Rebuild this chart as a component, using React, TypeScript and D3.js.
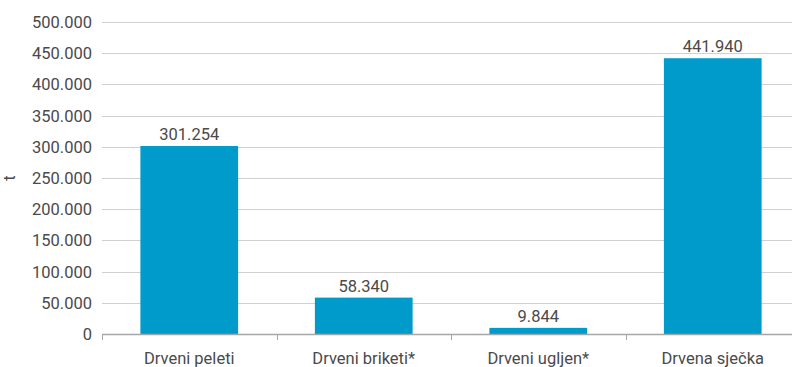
import React from "react";
import * as d3 from "d3";

const categories: string[] = ["Drveni peleti", "Drveni briketi*", "Drveni ugljen*", "Drvena sječka"];
const values: number[] = [301254, 58340, 9844, 441940];
const valueLabels: string[] = ["301.254", "58.340", "9.844", "441.940"];
const yTicks: number[] = [0, 50000, 100000, 150000, 200000, 250000, 300000, 350000, 400000, 450000, 500000];
const yTickLabels: string[] = ["0", "50.000", "100.000", "150.000", "200.000", "250.000", "300.000", "350.000", "400.000", "450.000", "500.000"];
const yAxisTitle = "t";

const W = 792;
const H = 367;
const FONT = "Roboto, 'DejaVu Sans Condensed', sans-serif";
const TEXT = "#4a4a4a";
const FS = 16.5;

export default function App() {
  const x = d3.scaleBand<string>().domain(categories).range([102, 800]).paddingInner(0.44).paddingOuter(0.22);
  const y = d3.scaleLinear().domain([0, 500000]).range([334, 22]);
  const step = x.step();
  const boundaries = d3.range(categories.length + 1).map((i) => x.range()[0] + i * step);

  return (
    <svg width={W} height={H} style={{ position: "absolute", left: 0, top: 0, display: "block", background: "#fff" }} fontFamily={FONT}>
      {yTicks.map((t, i) =>
        t === 0 ? null : (
          <line key={"g" + i} x1={102} x2={W} y1={Math.round(y(t)) + 0.5} y2={Math.round(y(t)) + 0.5} stroke="#d0d0d0" strokeWidth={1} />
        )
      )}
      {yTicks.map((t, i) => (
        <text key={"yl" + i} x={92} y={y(t)} dy="0.36em" textAnchor="end" fontSize={FS} fill={TEXT}>
          {yTickLabels[i]}
        </text>
      ))}
      <text transform={`translate(15,${y(250000)}) rotate(-90)`} textAnchor="middle" fontSize={FS} fill={TEXT}>
        {yAxisTitle}
      </text>
      {categories.map((c, i) => (
        <rect key={"b" + i} x={x(c)} y={y(values[i])} width={x.bandwidth()} height={y(0) - y(values[i])} fill="#009bcb" />
      ))}
      <line x1={102} x2={W} y1={334.5} y2={334.5} stroke="#a6a6a6" strokeWidth={1.5} />
      {boundaries.map((bx, i) => (
        <line key={"t" + i} x1={Math.round(bx) + 0.5} x2={Math.round(bx) + 0.5} y1={334} y2={340} stroke="#a6a6a6" strokeWidth={1} />
      ))}
      {categories.map((c, i) => (
        <text key={"v" + i} x={(x(c) as number) + x.bandwidth() / 2} y={y(values[i]) - 6} textAnchor="middle" fontSize={FS} fill={TEXT}>
          {valueLabels[i]}
        </text>
      ))}
      {categories.map((c, i) => (
        <text key={"c" + i} x={(x(c) as number) + x.bandwidth() / 2} y={364} textAnchor="middle" fontSize={FS} fill={TEXT}>
          {c}
        </text>
      ))}
    </svg>
  );
}
